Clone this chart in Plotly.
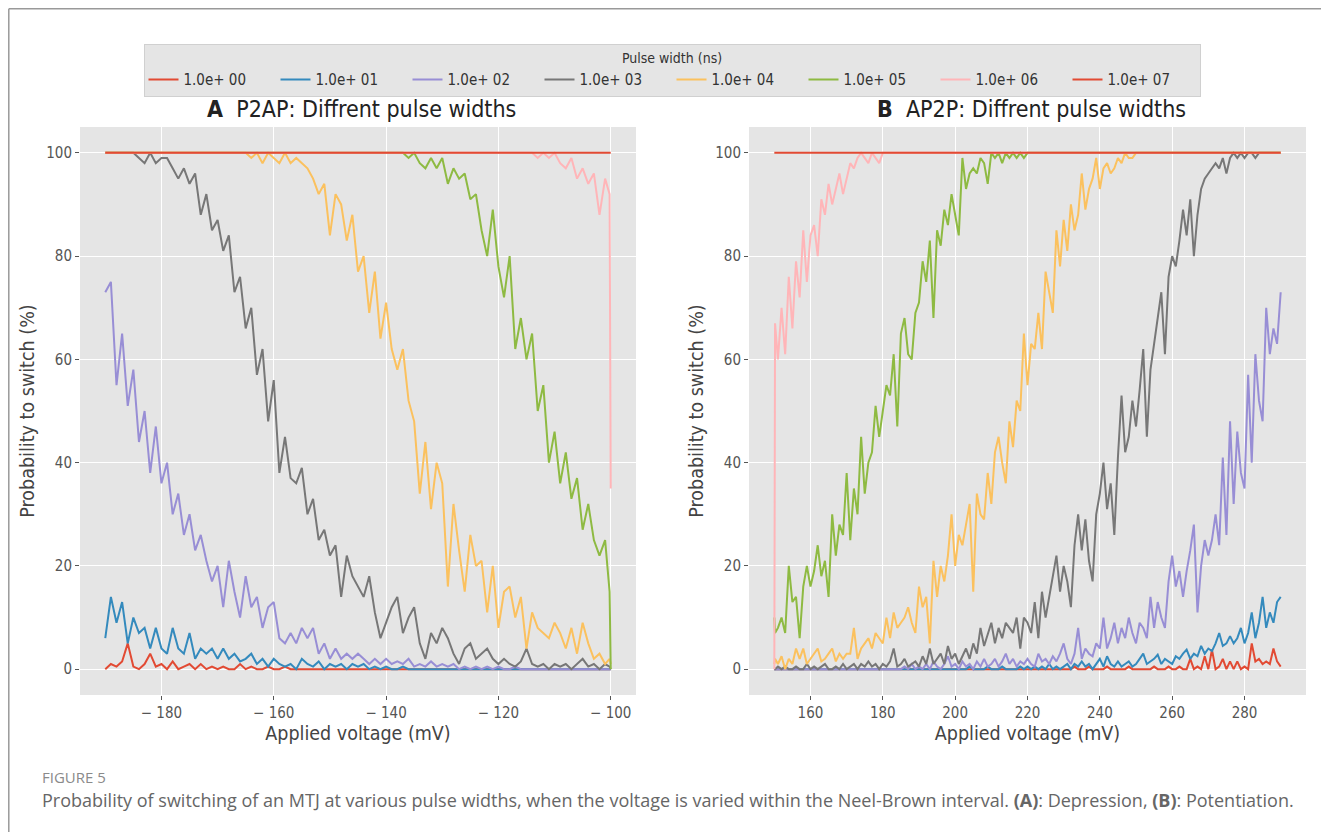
import plotly.graph_objects as go

# ---------------- data ----------------
PULSE_LABELS = ["1.0e+ 00", "1.0e+ 01", "1.0e+ 02", "1.0e+ 03",
                "1.0e+ 04", "1.0e+ 05", "1.0e+ 06", "1.0e+ 07"]
COLORS = ["#E24A33", "#348ABD", "#988ED5", "#777777",
          "#FBC15E", "#8EBA42", "#FFB5B8", "#E24A33"]

# Panel A grid: -190 ... -101, -100.2, -100 (mV)
VOLT_A = list(range(-190, -100)) + [-100.2, -100]

A_1e0 = [0, 1, 0.5, 1.5, 5, 0.5, 0, 1, 3, 0.5,
         1, 0, 1.5, 0, 0.5, 1, 0, 1, 0, 0.5,
         0, 0.5, 0, 0, 1, 0, 0.5, 0, 0, 0.5,
         0, 0, 0.5, 0, 0, 0, 0, 0, 0, 0,
         0, 0, 0, 0, 0, 0, 0, 0, 0, 0,
         0, 0, 0, 0, 0, 0, 0, 0, 0, 0,
         0, 0, 0, 0, 0, 0, 0, 0, 0, 0,
         0, 0, 0, 0, 0, 0, 0, 0, 0, 0,
         0, 0, 0, 0, 0, 0, 0, 0, 0, 0,
         0, 0]
A_1e1 = [6, 14, 9, 13, 5, 10, 7, 8, 4, 8,
         4, 3, 8, 4, 3, 7, 2, 4, 3, 4,
         2, 4, 2, 3, 1.5, 2, 3, 1, 2, 0.5,
         2, 1, 0.5, 1, 0, 2, 1, 0.5, 1.5, 0,
         1, 0.5, 1, 0, 1, 0.5, 1, 0, 0.5, 0,
         0.5, 0, 0, 0.5, 0, 0, 0, 0, 0, 0,
         0, 0, 0, 0, 0, 0, 0, 0, 0, 0,
         0, 0, 0, 0, 0, 0, 0, 0, 0, 0,
         0, 0, 0, 0, 0, 0, 0, 0, 0, 0,
         0, 0]
A_1e2 = [73, 75, 55, 65, 51, 58, 44, 50, 38, 47,
         36, 40, 30, 34, 26, 30, 23, 26, 21, 17,
         20, 12, 21, 15, 10, 18, 12, 14, 8, 12,
         13, 6, 5, 7, 5, 8, 6, 8, 3, 5,
         2, 4, 2, 3, 2, 3, 2, 1, 2, 1,
         2, 1, 1.5, 1, 2, 0.5, 1, 0.5, 1.5, 0.5,
         1, 0.5, 1, 0, 0.5, 0, 0.5, 0, 0.5, 0,
         0.5, 0, 0, 0.5, 0, 0, 0, 0, 0, 0,
         0, 0, 0, 0, 0, 0, 0, 0, 0, 0,
         0, 0]
A_1e3 = [100, 100, 100, 100, 100, 100, 99, 98, 100, 98,
         99, 99, 97, 95, 97, 94, 96, 88, 92, 85,
         87, 81, 84, 73, 76, 66, 70, 57, 62, 48,
         56, 38, 45, 37, 36, 39, 30, 33, 25, 27,
         22, 24, 14, 22, 18, 16, 14, 18, 11, 6,
         9, 12, 14, 7, 10, 12, 5, 2, 7, 5,
         8, 6, 3, 1, 4, 5, 2, 3, 4, 2,
         1, 2, 1, 0.5, 1.5, 4, 1, 0.5, 1, 0,
         1, 0.5, 1, 0, 1, 2, 0.5, 1, 0, 1,
         0.5, 0]
A_1e4 = [100, 100, 100, 100, 100, 100, 100, 100, 100, 100,
         100, 100, 100, 100, 100, 100, 100, 100, 100, 100,
         100, 100, 100, 100, 100, 100, 99, 100, 98, 100,
         99, 98, 100, 98, 99, 98, 97, 95, 92, 94,
         84, 92, 90, 83, 88, 77, 80, 69, 77, 64,
         71, 62, 58, 62, 52, 48, 34, 44, 31, 40,
         36, 16, 32, 23, 15, 26, 20, 21, 11, 20,
         8, 15, 16, 10, 14, 4, 11, 8, 7, 6,
         9, 7, 4, 8, 3, 9, 5, 2, 3, 1,
         2, 1]
A_1e5 = [100, 100, 100, 100, 100, 100, 100, 100, 100, 100,
         100, 100, 100, 100, 100, 100, 100, 100, 100, 100,
         100, 100, 100, 100, 100, 100, 100, 100, 100, 100,
         100, 100, 100, 100, 100, 100, 100, 100, 100, 100,
         100, 100, 100, 100, 100, 100, 100, 100, 100, 100,
         100, 100, 100, 100, 99, 100, 98, 97, 99, 97,
         99, 94, 97, 95, 96, 91, 92, 85, 80, 89,
         78, 72, 80, 62, 68, 60, 65, 50, 55, 40,
         46, 36, 42, 33, 37, 27, 32, 25, 22, 25,
         15, 0]
A_1e6 = [100, 100, 100, 100, 100, 100, 100, 100, 100, 100,
         100, 100, 100, 100, 100, 100, 100, 100, 100, 100,
         100, 100, 100, 100, 100, 100, 100, 100, 100, 100,
         100, 100, 100, 100, 100, 100, 100, 100, 100, 100,
         100, 100, 100, 100, 100, 100, 100, 100, 100, 100,
         100, 100, 100, 100, 100, 100, 100, 100, 100, 100,
         100, 100, 100, 100, 100, 100, 100, 100, 100, 100,
         100, 100, 100, 100, 100, 100, 100, 99, 100, 99,
         100, 98, 97, 99, 95, 97, 94, 96, 88, 95,
         92, 35]
A_1e7 = [100, 100, 100, 100, 100, 100, 100, 100, 100, 100,
         100, 100, 100, 100, 100, 100, 100, 100, 100, 100,
         100, 100, 100, 100, 100, 100, 100, 100, 100, 100,
         100, 100, 100, 100, 100, 100, 100, 100, 100, 100,
         100, 100, 100, 100, 100, 100, 100, 100, 100, 100,
         100, 100, 100, 100, 100, 100, 100, 100, 100, 100,
         100, 100, 100, 100, 100, 100, 100, 100, 100, 100,
         100, 100, 100, 100, 100, 100, 100, 100, 100, 100,
         100, 100, 100, 100, 100, 100, 100, 100, 100, 100,
         100, 100]

# Panel B grid: 150, 150.2, 151 ... 290 (mV)
VOLT_B = [150, 150.2] + list(range(151, 291))

B_1e0 = [0, 0,
         0, 0, 0, 0, 0, 0, 0, 0, 0, 0,
         0, 0, 0, 0, 0, 0, 0, 0, 0, 0,
         0, 0, 0, 0, 0, 0, 0, 0, 0, 0,
         0, 0, 0, 0, 0, 0, 0, 0, 0, 0,
         0, 0, 0, 0, 0, 0, 0, 0, 0, 0,
         0, 0, 0, 0, 0, 0, 0, 0, 0, 0,
         0, 0, 0, 0, 0, 0, 0, 0, 0, 0,
         0, 0, 0, 0, 0, 0, 0, 0, 0, 0,
         0, 0, 0.5, 0, 0, 0, 0.5, 0, 0, 0,
         0, 0.5, 0, 0, 0, 0, 0, 0.5, 0, 0,
         0, 0, 0, 0, 0.5, 0, 0, 0, 0.5, 0,
         0, 0.5, 0, 0, 2, 0, 0.5, 0, 2.5, 0,
         3.8, 0, 0.5, 2, 0, 1.5, 0, 1.5, 0, 0.5,
         0, 5, 1.5, 2, 1, 1.5, 1, 4, 1.5, 0.5]
B_1e1 = [0, 0,
         0, 0, 0, 0, 0, 0, 0, 0, 0, 0,
         0, 0, 0, 0, 0, 0, 0, 0, 0, 0,
         0, 0, 0, 0, 0, 0, 0, 0, 0, 0,
         0, 0, 0, 0, 0, 0, 0, 0, 0, 0,
         0, 0, 0, 0, 0, 0, 0, 0, 0, 0,
         0, 0, 0, 0.5, 0, 0, 0, 0, 0.5, 0,
         0, 0, 0.5, 0, 0, 0, 0, 0.5, 0, 0.5,
         0, 0.5, 0, 0.5, 0, 1, 0, 0.5, 0, 0.5,
         1, 0, 1, 0.5, 1.5, 0.5, 1, 0, 1, 2,
         0.5, 2.5, 1, 0.5, 1.5, 0.5, 1, 1.5, 0.5, 1,
         2, 3, 1, 1.5, 2, 2.8, 1, 2, 1.5, 1,
         2.5, 2, 3, 3.8, 2, 3, 2.5, 4.5, 3, 4,
         3.5, 5, 7, 4.5, 5, 6.4, 5, 6, 8, 5,
         7, 11, 6, 9, 14, 8, 11, 9, 13, 14]
B_1e2 = [0, 0,
         0, 0, 0, 0, 0, 0, 0, 0, 0, 0,
         0, 0, 0, 0, 0, 0, 0, 0, 0, 0,
         0, 0, 0, 0, 0, 0, 0, 0, 0, 0,
         0, 0, 0, 0, 0, 0.5, 0, 1, 0, 0.5,
         0, 1, 0, 1.5, 0.5, 0, 1, 2.5, 0.5, 1,
         0, 1.5, 0.5, 1, 0, 1.5, 0.5, 2, 0.5, 1,
         2, 0.5, 1.5, 3, 1, 2, 0.5, 1.5, 1, 2,
         1, 0.5, 3, 1.5, 2, 1, 2.5, 1.5, 3, 5,
         2, 1, 3, 8, 2, 4, 3, 2.5, 5, 4,
         10, 4, 6, 9, 5, 8, 6, 10, 7, 5,
         9, 8, 6, 14, 8, 13, 10, 8, 17, 22,
         16, 19, 14, 19, 23, 28, 11, 20, 25, 22,
         25, 30, 24, 41, 26, 48, 32, 46, 38, 35,
         57, 40, 61, 52, 48, 70, 61, 66, 63, 73]
B_1e3 = [0, 0,
         0.5, 0, 0.5, 0, 0, 0.5, 0, 0, 1, 0,
         0.5, 0, 0.5, 1, 0, 0, 0.5, 0, 1, 0,
         0.5, 1, 0, 1, 0.5, 1.5, 0.5, 1, 0, 1,
         0.5, 1.5, 4, 0.5, 1, 2, 0.5, 1, 1.5, 0.5,
         2.5, 1, 4, 1, 2, 3, 1, 4.5, 2, 3,
         1, 2.5, 4, 2, 5, 3, 8, 4.5, 7, 9,
         5, 8, 6, 9, 8, 7, 10, 4, 10, 9,
         7, 13, 6, 15, 10, 14, 18, 22, 15, 20,
         17, 12, 24, 30, 23, 29, 21, 17, 30, 34,
         40, 31, 36, 26, 41, 53, 42, 45, 52, 47,
         54, 62, 45, 58, 63, 68, 73, 61, 76, 80,
         78, 83, 89, 84, 91, 80, 88, 93, 95, 96,
         97, 98, 97, 99, 96, 99, 100, 99, 100, 99,
         100, 100, 99, 100, 100, 100, 100, 100, 100, 100]
B_1e4 = [1, 2,
         1, 2.5, 0, 2, 1, 4, 2, 4, 1, 2,
         3, 4, 1.5, 2, 3, 4, 1.5, 3, 2, 3,
         3, 8, 2, 4, 5, 6, 4, 7, 6, 5,
         10, 6, 11, 8, 9, 10, 12, 9, 7, 16,
         12, 14, 5, 21, 14, 20, 17, 22, 30, 20,
         26, 24, 28, 32, 15, 34, 30, 29, 38, 32,
         42, 45, 40, 36, 48, 43, 52, 50, 65, 55,
         63, 62, 69, 62, 77, 73, 69, 85, 78, 87,
         81, 90, 85, 88, 96, 89, 93, 95, 99, 93,
         97, 98, 96, 97, 99, 98, 100, 99, 99, 100,
         100, 100, 100, 100, 100, 100, 100, 100, 100, 100,
         100, 100, 100, 100, 100, 100, 100, 100, 100, 100,
         100, 100, 100, 100, 100, 100, 100, 100, 100, 100,
         100, 100, 100, 100, 100, 100, 100, 100, 100, 100]
B_1e5 = [10, 7,
         8, 10, 7, 20, 13, 14, 6, 16, 20, 16,
         19, 24, 18, 21, 14, 30, 22, 28, 26, 38,
         25, 35, 30, 45, 34, 40, 42, 51, 45, 50,
         55, 53, 61, 47, 65, 68, 61, 60, 69, 71,
         79, 75, 83, 68, 85, 82, 89, 86, 92, 88,
         84, 99, 93, 96, 97, 96, 99, 98, 94, 100,
         99, 100, 98, 100, 99, 100, 99, 100, 99, 100,
         100, 100, 100, 100, 100, 100, 100, 100, 100, 100,
         100, 100, 100, 100, 100, 100, 100, 100, 100, 100,
         100, 100, 100, 100, 100, 100, 100, 100, 100, 100,
         100, 100, 100, 100, 100, 100, 100, 100, 100, 100,
         100, 100, 100, 100, 100, 100, 100, 100, 100, 100,
         100, 100, 100, 100, 100, 100, 100, 100, 100, 100,
         100, 100, 100, 100, 100, 100, 100, 100, 100, 100]
B_1e6 = [0, 67,
         60, 70, 61, 76, 66, 79, 72, 85, 75, 84,
         86, 80, 91, 88, 94, 90, 93, 96, 92, 95,
         98, 97, 99, 100, 99, 98, 100, 99, 98, 100,
         100, 100, 100, 100, 100, 100, 100, 100, 100, 100,
         100, 100, 100, 100, 100, 100, 100, 100, 100, 100,
         100, 100, 100, 100, 100, 100, 100, 100, 100, 100,
         100, 100, 100, 100, 100, 100, 100, 100, 100, 100,
         100, 100, 100, 100, 100, 100, 100, 100, 100, 100,
         100, 100, 100, 100, 100, 100, 100, 100, 100, 100,
         100, 100, 100, 100, 100, 100, 100, 100, 100, 100,
         100, 100, 100, 100, 100, 100, 100, 100, 100, 100,
         100, 100, 100, 100, 100, 100, 100, 100, 100, 100,
         100, 100, 100, 100, 100, 100, 100, 100, 100, 100,
         100, 100, 100, 100, 100, 100, 100, 100, 100, 100]
B_1e7 = [100, 100,
         100, 100, 100, 100, 100, 100, 100, 100, 100, 100,
         100, 100, 100, 100, 100, 100, 100, 100, 100, 100,
         100, 100, 100, 100, 100, 100, 100, 100, 100, 100,
         100, 100, 100, 100, 100, 100, 100, 100, 100, 100,
         100, 100, 100, 100, 100, 100, 100, 100, 100, 100,
         100, 100, 100, 100, 100, 100, 100, 100, 100, 100,
         100, 100, 100, 100, 100, 100, 100, 100, 100, 100,
         100, 100, 100, 100, 100, 100, 100, 100, 100, 100,
         100, 100, 100, 100, 100, 100, 100, 100, 100, 100,
         100, 100, 100, 100, 100, 100, 100, 100, 100, 100,
         100, 100, 100, 100, 100, 100, 100, 100, 100, 100,
         100, 100, 100, 100, 100, 100, 100, 100, 100, 100,
         100, 100, 100, 100, 100, 100, 100, 100, 100, 100,
         100, 100, 100, 100, 100, 100, 100, 100, 100, 100]

SERIES_A = [A_1e0, A_1e1, A_1e2, A_1e3, A_1e4, A_1e5, A_1e6, A_1e7]
SERIES_B = [B_1e0, B_1e1, B_1e2, B_1e3, B_1e4, B_1e5, B_1e6, B_1e7]

TICKS_A = [-180, -160, -140, -120, -100]
TICKS_A_TEXT = ["\u2212 180", "\u2212 160", "\u2212 140", "\u2212 120", "\u2212 100"]
TICKS_B = [160, 180, 200, 220, 240, 260, 280]
TICKS_Y = [0, 20, 40, 60, 80, 100]

# ---------------- figure ----------------
# page body has an 8px margin; figure is offset by it
OFF = 8
W, H = 1329 - OFF, 832 - OFF
FONT = "DejaVu Sans Condensed, Liberation Sans Narrow, Roboto"
CAPFONT = "Open Sans"
TXT = "#555555"

fig = go.Figure()
for i, (lab, col) in enumerate(zip(PULSE_LABELS, COLORS)):
    fig.add_trace(go.Scatter(x=VOLT_A, y=SERIES_A[i], mode="lines", name=lab,
                             line=dict(color=col, width=2), legendgroup=lab,
                             showlegend=True, xaxis="x", yaxis="y"))
for i, (lab, col) in enumerate(zip(PULSE_LABELS, COLORS)):
    fig.add_trace(go.Scatter(x=VOLT_B, y=SERIES_B[i], mode="lines", name=lab,
                             line=dict(color=col, width=2), legendgroup=lab,
                             showlegend=False, xaxis="x2", yaxis="y2"))

def px_x(p):
    return (p - OFF) / W

def px_y(p):
    return 1 - (p - OFF) / H

ydom = [px_y(695), px_y(127)]
axis_common = dict(showgrid=True, gridcolor="white", gridwidth=1.3,
                   zeroline=False, showline=False, ticks="outside",
                   ticklen=4, tickwidth=1, tickcolor=TXT,
                   tickfont=dict(family=FONT, size=15, color=TXT),
                   title_font=dict(family=FONT, size=19.5, color="#444444"))

fig.update_layout(
    width=W, height=H,
    margin=dict(l=0, r=0, t=0, b=0),
    paper_bgcolor="white", plot_bgcolor="#E5E5E5",
    font=dict(family=FONT, color=TXT),
    xaxis=dict(domain=[px_x(80), px_x(636)], range=[-194.5, -95.5],
               tickvals=TICKS_A, ticktext=TICKS_A_TEXT,
               title=dict(text="Applied voltage (mV)", standoff=5),
               anchor="y", **axis_common),
    yaxis=dict(domain=ydom, range=[-5, 105], tickvals=TICKS_Y,
               title=dict(text="Probability to switch (%)", standoff=6),
               anchor="x", **axis_common),
    xaxis2=dict(domain=[px_x(749), px_x(1306)], range=[143, 297],
                tickvals=TICKS_B,
                title=dict(text="Applied voltage (mV)", standoff=5),
                anchor="y2", **axis_common),
    yaxis2=dict(domain=ydom, range=[-5, 105], tickvals=TICKS_Y,
                title=dict(text="Probability to switch (%)", standoff=6),
                anchor="x2", **axis_common),
    legend=dict(orientation="h", x=px_x(672), xanchor="center",
                y=px_y(44), yanchor="top",
                bgcolor="#E5E5E5", bordercolor="#D0D0D0", borderwidth=1,
                font=dict(family=FONT, size=15, color="#333333"),
                title=dict(text="Pulse width (ns)", side="top center",
                           font=dict(family=FONT, size=14, color="#333333")),
                entrywidth=87, entrywidthmode="pixels",
                tracegroupgap=0, itemwidth=30),
    showlegend=True,
)

ann = [
    dict(text="<b>A</b>  P2AP: Diffrent pulse widths", x=px_x(361), y=px_y(109),
         xanchor="center", yanchor="middle",
         font=dict(family=FONT, size=23, color="#222222")),
    dict(text="<b>B</b>  AP2P: Diffrent pulse widths", x=px_x(1031), y=px_y(109),
         xanchor="center", yanchor="middle",
         font=dict(family=FONT, size=23, color="#222222")),
    dict(text="FIGURE 5", x=px_x(40), y=px_y(777), xanchor="left", yanchor="middle",
         font=dict(family=CAPFONT, size=15, color="#8a8a8a")),
    dict(text="Probability of switching of an MTJ at various pulse widths, when the voltage "
              "is varied within the Neel-Brown interval. <b>(A)</b>: Depression, "
              "<b>(B)</b>: Potentiation.",
         x=px_x(40), y=px_y(800), xanchor="left", yanchor="middle",
         font=dict(family=CAPFONT, size=18, color="#666666")),
]
for a in ann:
    a.update(xref="paper", yref="paper", showarrow=False)
fig.update_layout(annotations=ann)

fig.add_shape(type="line", xref="paper", yref="paper",
              x0=0.0006, x1=1, y0=0.999, y1=0.999,
              line=dict(color="#999999", width=1.5))
fig.add_shape(type="line", xref="paper", yref="paper",
              x0=0.0006, x1=0.0006, y0=0, y1=0.999,
              line=dict(color="#999999", width=1.5))

fig.write_html("out.html")
